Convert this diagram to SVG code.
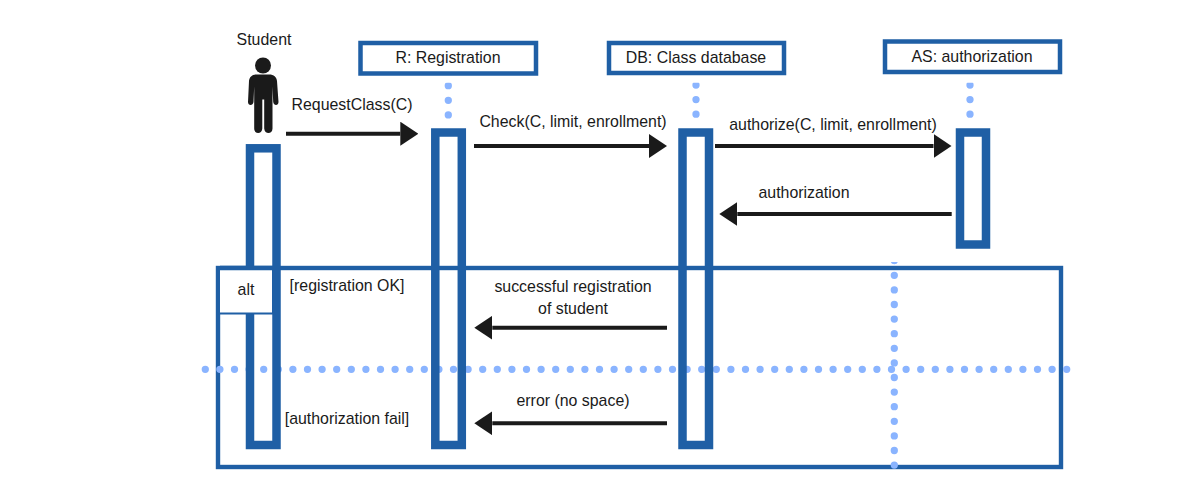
<svg xmlns="http://www.w3.org/2000/svg" width="1200" height="500" viewBox="0 0 1200 500">
<style>
text{font-family:"Liberation Sans",Arial,sans-serif;font-size:15.9px;fill:#1a1a1a;text-anchor:middle}
.box{fill:#fff;stroke:#1f5fa5;stroke-width:4.5}
.act{fill:none;stroke:#1f5fa5;stroke-width:8.5}
.dot{fill:none;stroke:#8ab4ff;stroke-width:7.3;stroke-linecap:round;stroke-dasharray:0 14.6}
.msg{fill:none;stroke:#1a1a1a;stroke-width:4}
.fr{fill:none;stroke:#1f5fa5;stroke-width:4.4}
</style>
<defs>
<marker id="ah" markerUnits="userSpaceOnUse" markerWidth="18" markerHeight="24" refX="0" refY="12" orient="auto"><path d="M0 0L18 12L0 24Z" fill="#1a1a1a"/></marker>
<clipPath id="cv"><rect x="880" y="262" width="30" height="210"/></clipPath>
<clipPath id="ct"><rect x="300" y="82.7" width="800" height="40"/></clipPath>
</defs>
<g id="frame"><rect class="fr" x="218" y="268" width="843" height="199"/><text x="347" y="291">[registration OK]</text><text x="347" y="424">[authorization fail]</text></g>
<g id="guides">
<path class="dot" d="M205.3 369.3H1068"/>
<path class="dot" clip-path="url(#cv)" d="M894.3 260.7V466"/>
</g>
<g id="connectors">
<path class="msg" marker-end="url(#ah)" d="M286 133.7H400.3"/>
<path class="msg" marker-end="url(#ah)" d="M474 146H649"/>
<path class="msg" marker-end="url(#ah)" d="M715 146H933.5"/>
<path class="msg" marker-end="url(#ah)" d="M951.7 214H737.3"/>
<path class="msg" marker-end="url(#ah)" d="M667 327.7H492.3"/>
<path class="msg" marker-end="url(#ah)" d="M667 423.3H492.3"/>
<text x="352" y="110">RequestClass(C)</text>
<text x="573" y="127">Check(C, limit, enrollment)</text>
<text x="833" y="130">authorize(C, limit, enrollment)</text>
<text x="804" y="198">authorization</text>
<text x="573" y="292">successful registration</text>
<text x="573" y="314">of student</text>
<text x="573" y="406">error (no space)</text>
</g>
<g id="student">
<text x="264" y="45">Student</text>
<circle cx="263" cy="65.5" r="8" fill="#1a1a1a"/>
<path fill="#1a1a1a" d="M257 74.5H269C274 74.5 276.5 77 277 81L278.5 102C278.6 106 273.6 106 273.2 102L272.5 86.5V128.5C272.5 134.5 264.5 134.5 264.2 128.5V99.5H262.3V128.5C262 134.5 254.2 134.5 254.2 128.5V86.5L253.5 102C253 106 248 106 248 102L249 81C249.5 77 252 74.5 257 74.5Z"/>
<rect class="act" x="250" y="148.3" width="26.5" height="296.7"/>
<rect x="219" y="268" width="54" height="45.5" fill="#fff" stroke="#1f5fa5" stroke-width="2"/>
<path d="M220 268H273" stroke="#1f5fa5" stroke-width="4.4"/>
<text x="246" y="295">alt</text>
</g>
<g id="registration">
<path class="dot" clip-path="url(#ct)" d="M448.3 85.7V120"/>
<rect class="box" x="360.5" y="43" width="175.5" height="30.5"/>
<text x="448" y="63">R: Registration</text>
<rect class="act" x="435.3" y="132.5" width="26.5" height="312.5"/>
</g>
<g id="database">
<path class="dot" clip-path="url(#ct)" d="M696 85V120"/>
<rect class="box" x="609" y="43" width="175" height="30"/>
<text x="696" y="63">DB: Class database</text>
<rect class="act" x="682.5" y="132.5" width="26.5" height="312.5"/>
</g>
<g id="authorization">
<path class="dot" clip-path="url(#ct)" d="M970 85V120"/>
<rect class="box" x="885" y="41.5" width="175" height="30.5"/>
<text x="972" y="62">AS: authorization</text>
<rect class="act" x="960" y="132.5" width="26" height="112"/>
</g>
</svg>
